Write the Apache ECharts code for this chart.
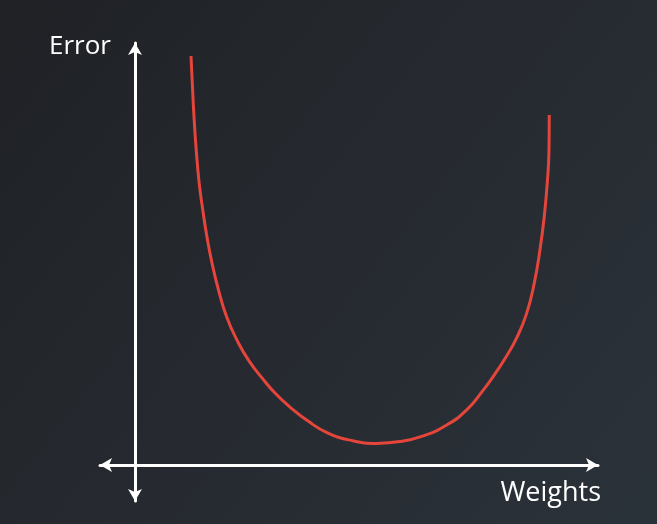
<!DOCTYPE html>
<html>
<head>
<meta charset="utf-8">
<title>Error vs Weights</title>
<script src="https://cdn.jsdelivr.net/npm/echarts@6/dist/echarts.min.js"></script>
<style>
html, body { margin: 0; padding: 0; }
#chart { width: 657px; height: 524px; }
</style>
</head>
<body>
<div id="chart"></div>
<script>
// weights and error (arbitrary units)
var weights = [1.600, 1.637, 1.686, 1.749, 1.834, 1.937, 2.057, 2.200, 2.386, 2.620,
               2.929, 3.257, 3.629, 4.000, 4.429, 4.943, 5.486, 6.143, 6.914,
               7.571, 8.237, 8.906, 9.477, 9.951, 10.286, 10.600, 10.906, 11.191,
               11.409, 11.571, 11.694, 11.780, 11.829, 11.837];
var errors  = [11.36, 10.61, 9.67, 8.75, 7.83, 7.08, 6.33, 5.61, 4.86, 4.11,
               3.44, 2.89, 2.42, 2.00, 1.61, 1.22, 0.90, 0.69, 0.60,
               0.65, 0.81, 1.11, 1.53, 2.08, 2.53, 3.00, 3.53, 4.21,
               5.05, 5.97, 6.90, 7.83, 8.75, 9.72];

var axisNames = ['Weights', 'Error'];

var points = [];
for (var i = 0; i < weights.length; i++) {
	points.push([weights[i], errors[i]]);
}

var myChart = echarts.init(document.getElementById('chart'));

// white axes with arrows on both ends
var axisLine = {
	onZero: true,
	symbol: ['arrow', 'arrow'],
	symbolSize: [10.5, 12],
	lineStyle: { color: '#ffffff', width: 3 }
};

var option = {
	backgroundColor: {
		type: 'linear', x: 0, y: 0, x2: 1, y2: 1,
		colorStops: [
			{ offset: 0, color: '#1f2125' },
			{ offset: 0.5, color: '#262a30' },
			{ offset: 1, color: '#2a3239' }
		]
	},
	animation: false,
	grid: { left: 100, top: 43, width: 498, height: 458 },
	xAxis: {
		type: 'value',
		min: -1,
		max: 13.23,
		name: axisNames[0],
		nameLocation: 'end',
		nameGap: 3,
		nameTextStyle: {
			color: '#ffffff', fontFamily: 'Open Sans', fontSize: 27,
			align: 'right', verticalAlign: 'top', padding: [15, 0, 0, 0]
		},
		axisLine: axisLine,
		axisTick: { show: false },
		axisLabel: { show: false },
		splitLine: { show: false }
	},
	yAxis: {
		type: 'value',
		min: -1,
		max: 11.72,
		name: axisNames[1],
		nameLocation: 'end',
		nameGap: -4,
		nameTextStyle: {
			color: '#ffffff', fontFamily: 'Open Sans', fontSize: 26,
			align: 'right', verticalAlign: 'middle', padding: [0, 24, 0, 0]
		},
		axisLine: axisLine,
		axisTick: { show: false },
		axisLabel: { show: false },
		splitLine: { show: false }
	},
	series: [{
		type: 'line',
		data: points,
		smooth: 0.5,
		showSymbol: false,
		lineStyle: { color: '#e5453a', width: 3 }
	}]
};
myChart.setOption(option);
</script>
</body>
</html>
